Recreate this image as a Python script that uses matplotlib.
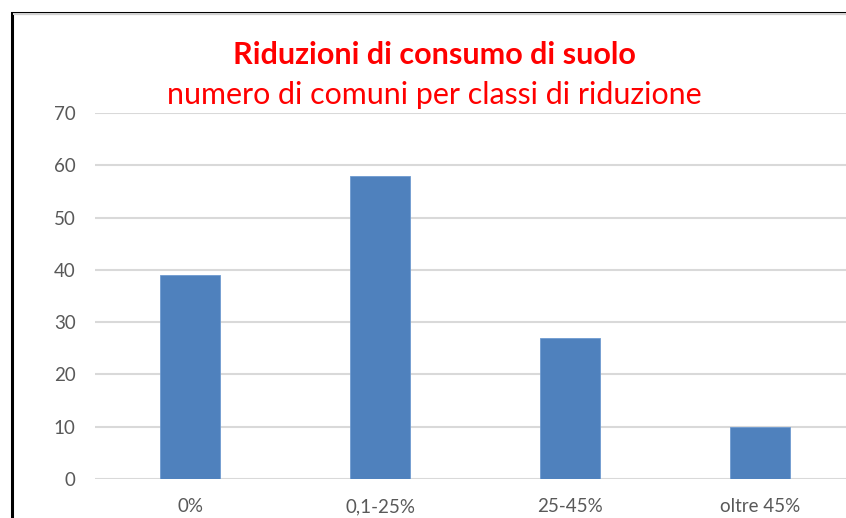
import matplotlib
matplotlib.use("Agg")
import matplotlib.pyplot as plt
from matplotlib.patches import Rectangle

categories = ["0%", "0,1-25%", "25-45%", "oltre 45%"]
values = [39, 58, 27, 10]
yticks = [0, 10, 20, 30, 40, 50, 60, 70]
title = "Riduzioni di consumo di suolo"
subtitle = "numero di comuni per classi di riduzione"

W, H = 846, 518
fig = plt.figure(figsize=(W / 100, H / 100), dpi=100)
plt.rcParams['font.family'] = ['Lato', 'DejaVu Sans']

# frame (cropped Excel chart border)
fig.patches.append(Rectangle((11.5 / W, -0.1), 1.2, (H - 12.5) / H + 0.1,
                             transform=fig.transFigure, fill=False,
                             edgecolor='black', linewidth=2.2, zorder=0))
fig.patches.append(Rectangle((13 / W, (H - 15) / H), 1.2, 1.5 / H,
                             transform=fig.transFigure, facecolor='#d0d0d0',
                             edgecolor='none', zorder=0))

ax = fig.add_axes([95 / W, 39 / H, 760 / W, 366 / H])
x = range(len(categories))
ax.bar(x, values, width=60 / 190, color='#4f81bd', edgecolor='#6f9bd0', linewidth=0.6, zorder=3)
ax.set_xlim(-0.5, len(categories) - 0.5)
ax.set_ylim(0, 70)
ax.set_yticks(yticks)
ax.set_xticks(list(x))
ax.set_xticklabels(categories)
ax.yaxis.grid(True, color='#d9d9d9', linewidth=1.5, zorder=0)
ax.set_axisbelow(True)
for s in ax.spines.values():
    s.set_visible(False)
ax.tick_params(length=0, colors='#595959', labelsize=13.5)
ax.tick_params(axis='y', pad=14)
ax.tick_params(axis='x', pad=14)

fig.text(434 / W, 1 - 55 / H, title, color='red', fontsize=22, fontweight='bold',
         ha='center', va='center')
fig.text(434 / W, 1 - 95 / H, subtitle, color='red', fontsize=21.9,
         ha='center', va='center')

fig.savefig("out.png", dpi=100)
